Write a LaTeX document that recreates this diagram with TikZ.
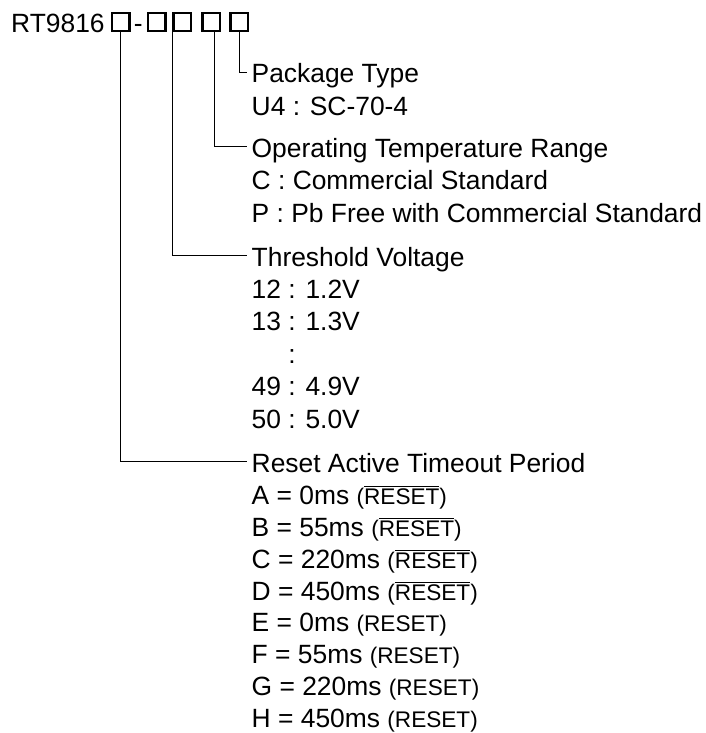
\documentclass[tikz,border=0pt]{standalone}
\usepackage{fontspec}
\setmainfont{Liberation Sans}
\usetikzlibrary{positioning}

\newcommand{\sigpin}[1]{{\fontsize{22.6}{27}\selectfont(#1)}}
\newcommand{\lowpin}[1]{\setbox0=\hbox{#1}\rlap{\rule[\dimexpr\ht0+1.6pt\relax]{\wd0}{0.9pt}}\box0}

\begin{document}
\begin{tikzpicture}[x=1pt, y=-1pt, node distance=8pt, font=\fontsize{26.4}{32}\selectfont]
        \tikzstyle{entry}=[inner xsep=5pt, inner ysep=0pt, text height=23pt, text depth=1pt]
        \tikzstyle{slot}=[draw, line width=2.4pt, minimum size=17.5pt, inner sep=0pt]
        \tikzstyle{lead}=[line width=0.9pt]
        \useasboundingbox (0,0) rectangle (705,733);

        % part number
        \node[entry, inner xsep=0pt, anchor=base west] (title) at (11,33) {RT9816};
        \node[slot, right=6pt of title] (box1) {};
        \node[entry, inner xsep=0pt, right=3pt of box1] (dash) {-};
        \node[slot, right=4pt of dash] (boxa) {};
        \node[slot, right=5.5pt of boxa] (boxb) {};
        \node[slot, right=9pt of boxb] (boxc) {};
        \node[slot, right=8pt of boxc] (boxd) {};

        % package
        \node[entry, anchor=base west] (pkg) at (246.5,83) {Package Type};
        \node[entry, below=of pkg.south west, anchor=north west] (pkgU4) {U4 : SC-70-4};

        % temperature range
        \node[entry, below=17.5pt of pkgU4.south west, anchor=north west] (temp) {Operating Temperature Range};
        \node[entry, below=of temp.south west, anchor=north west] (tempC) {C : Commercial Standard};
        \node[entry, below=of tempC.south west, anchor=north west] (tempP) {P : Pb Free with Commercial Standard};

        % threshold voltage
        \node[entry, below=19.5pt of tempP.south west, anchor=north west] (thr) {Threshold Voltage};
        \node[entry, below=of thr.south west, anchor=north west] (thr12) {12 : 1.2V};
        \node[entry, below=of thr12.south west, anchor=north west] (thr13) {13 : 1.3V};
        \node[entry, below=of thr13.south west, anchor=north west] (thrdots) {\hphantom{13 }:};
        \node[entry, below=of thrdots.south west, anchor=north west] (thr49) {49 : 4.9V};
        \node[entry, below=of thr49.south west, anchor=north west] (thr50) {50 : 5.0V};

        % reset timeout
        \node[entry, below=20pt of thr50.south west, anchor=north west] (rst) {Reset Active Timeout Period};
        \node[entry, below=7.5pt of rst.south west, anchor=north west] (rstA) {A = 0ms \sigpin{\lowpin{RESET}}};
        \node[entry, below=7.5pt of rstA.south west, anchor=north west] (rstB) {B = 55ms \sigpin{\lowpin{RESET}}};
        \node[entry, below=7.5pt of rstB.south west, anchor=north west] (rstC) {C = 220ms \sigpin{\lowpin{RESET}}};
        \node[entry, below=7.5pt of rstC.south west, anchor=north west] (rstD) {D = 450ms \sigpin{\lowpin{RESET}}};
        \node[entry, below=7.5pt of rstD.south west, anchor=north west] (rstE) {E = 0ms \sigpin{RESET}};
        \node[entry, below=7.5pt of rstE.south west, anchor=north west] (rstF) {F = 55ms \sigpin{RESET}};
        \node[entry, below=7.5pt of rstF.south west, anchor=north west] (rstG) {G = 220ms \sigpin{RESET}};
        \node[entry, below=7.5pt of rstG.south west, anchor=north west] (rstH) {H = 450ms \sigpin{RESET}};

        \draw[lead] (boxd.south) |- (pkg.west);
        \draw[lead] ([xshift=3.5pt]boxc.south) |- (temp.west);
        \draw[lead] (boxb.south west) |- (thr.west);
        \draw[lead] (box1.south) |- (rst.west);
    \end{tikzpicture}
\end{document}
